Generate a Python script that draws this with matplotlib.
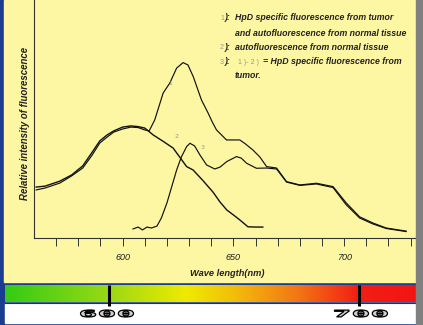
import matplotlib
matplotlib.use("Agg")
from matplotlib import pyplot as plt
from matplotlib.colors import LinearSegmentedColormap
from matplotlib.patches import Rectangle, PathPatch
from matplotlib.textpath import TextPath
from matplotlib.font_manager import FontProperties
from matplotlib.transforms import Affine2D
import numpy as np

# spectra (wavelength nm, relative intensity 0-100)
wl_total = [561, 565, 571.7, 577, 582, 586, 589.7, 593, 596, 600, 603.7, 607, 610, 612,
            614.5, 618.3, 621.3, 624.4, 627.3, 629.5, 631.9, 635.6, 638.6, 640.5, 642.4,
            646.9, 651.4, 652.9, 655.5, 658.8, 662, 665, 669.5, 674, 680, 687.5, 695,
            701, 707, 713, 719, 728]
int_total = [20.2, 21.0, 23.1, 26.1, 29.4, 34.5, 39.9, 42.4, 44.5, 45.8, 46.6, 46.4, 45.4, 45.0,
             49.6, 60.9, 65.1, 71.4, 73.7, 72.7, 67.8, 58.0, 52.5, 48.7, 45.4,
             41.2, 41.2, 41.2, 39.5, 37.0, 34.0, 30.0, 29.4, 23.7, 22.3, 23.0, 21.6,
             14.7, 8.9, 6.3, 4.2, 2.9]

wl_auto = [561, 565, 571.7, 577, 582, 586, 589.7, 593, 596, 600, 603.7, 607, 610, 613.8,
           618, 622.8, 628.9, 631.8, 636, 640.8, 644, 647, 650, 652.9, 656.6, 660, 663.3]
int_auto = [21.4, 21.8, 23.9, 26.5, 30.3, 35.7, 40.8, 43.3, 45.0, 46.6, 47.1, 46.8, 46.2, 43.3,
            40.8, 37.8, 30.0, 28.6, 24.4, 19.3, 15.1, 11.8, 9.7, 7.6, 4.7, 4.6, 4.6]

wl_diff = [604.7, 607, 609, 611, 613, 615.5, 617.5, 620, 622, 624.4, 626.5, 628.9, 630.4,
           632.5, 634.9, 637.9, 641.6, 644, 647, 651.4, 653.5, 656, 660.4, 665, 669.5,
           674, 680, 687.5, 695, 701, 707, 713, 719, 728]
int_diff = [3.8, 4.6, 3.4, 4.6, 4.2, 5.0, 8.4, 14.7, 21.0, 28.6, 34.0, 38.4, 39.8,
            38.7, 34.9, 30.7, 29.0, 29.8, 32.1, 34.2, 33.6, 31.4, 29.3, 29.4, 29.0,
            23.5, 22.1, 22.7, 21.2, 13.9, 8.4, 5.9, 4.0, 2.7]

x_ticks = list(range(570, 731, 10))
x_labels = {600: "600", 650: "650", 700: "700"}

legend_lines = [
    ("1", "HpD specific fluorescence from tumor"),
    (None, "and autofluorescence from normal tissue"),
    ("2", "autofluorescence from normal tissue"),
    ("3", None),
    (None, "tumor."),
]

yellow = "#fdf6a2"
blue = "#1b3d8f"
W, H = 423, 325

fig = plt.figure(figsize=(W / 100, H / 100), dpi=100)

# background panel in pixel coordinates
bg = fig.add_axes([0, 0, 1, 1])
bg.set_xlim(0, W)
bg.set_ylim(H, 0)
bg.axis("off")
bg.add_patch(Rectangle((0, 0), W, H, color=blue, zorder=0))
bg.add_patch(Rectangle((4, 0), 412, 282, color=yellow, zorder=1))
bg.add_patch(Rectangle((5, 303), 411, 19.5, color="white", zorder=1))

grad = LinearSegmentedColormap.from_list("spec", [
    (0.0, (0.20, 0.80, 0.08)),
    (0.25, (0.60, 0.85, 0.08)),
    (0.44, (0.94, 0.92, 0.0)),
    (0.56, (0.95, 0.74, 0.04)),
    (0.72, (0.95, 0.45, 0.08)),
    (0.86, (0.95, 0.12, 0.08)),
    (1.0, (0.95, 0.08, 0.08)),
])
bg.imshow(np.linspace(0, 1, 256).reshape(1, -1), cmap=grad, aspect="auto",
          extent=(5, 416, 302, 285), zorder=2)
bg.plot([5, 416], [302.5, 302.5], color="#333322", lw=0.8, zorder=3)
for xp in (109, 359):
    bg.plot([xp, xp], [285, 306], color="black", lw=2.2, zorder=3, solid_capstyle="butt")

# stretched outline digits under the colour bar
fp_mono = FontProperties(family="DejaVu Sans Mono", weight="bold")
for label, cx in (("600", 107), ("700", 361)):
    tp = TextPath((0, 0), label, size=10, prop=fp_mono)
    ext = tp.get_extents()
    sx = 53 / ext.width
    sy = 7 / ext.height
    tr = (Affine2D().translate(-ext.x0 - ext.width / 2, -ext.y0 - ext.height / 2)
          .scale(sx, -sy).translate(cx, 313.5))
    bg.add_patch(PathPatch(tp, transform=tr + bg.transData, facecolor="#cfcfcf",
                           edgecolor="black", lw=0.9, zorder=4))

# legend text
txt = dict(family="Liberation Sans", fontsize=6.3, fontweight="bold", style="italic",
           color="#222222", zorder=4, va="center")
num = dict(family="Liberation Sans", fontsize=5, color="#999988", zorder=4, va="center")
ys = [18, 33, 47.5, 62, 76]
for (n, s), yy in zip(legend_lines, ys):
    if n is not None:
        bg.text(220, yy, n, **num)
        bg.text(225, yy, "):", **txt)
    if s is not None:
        bg.text(235, yy, s, **txt)
bg.text(238, 62, "1 )- 2 )", **num)
bg.text(263, 62, "= HpD specific fluorescence from", **txt)

lab = dict(txt)
lab["fontsize"] = 6.7
bg.text(227, 273, "Wave length(nm)", ha="center", **lab)
lab["fontsize"] = 6.9
bg.text(25, 123, "Relative intensity of fluorescence", rotation=90, ha="center", **lab)

bg.add_patch(Rectangle((416, 0), 7, H, color="#808080", zorder=6))

# spectrum axes
ax = fig.add_axes([34 / W, (H - 238) / H, 381 / W, 238 / H])
ax.set_facecolor("none")
ax.plot(wl_total, int_total, color="#111111", lw=0.85)
ax.plot(wl_auto, int_auto, color="#111111", lw=1.0)
ax.plot(wl_diff, int_diff, color="#111111", lw=0.85)
ax.text(621.5, 65, "1", fontsize=4.5, color="#999988", ha="center", va="center")
ax.text(624.5, 42.5, "2", fontsize=4.5, color="#999988", ha="center", va="center")
ax.text(636, 38, "3", fontsize=4.5, color="#999988", ha="center", va="center")
ax.set_xlim(560, 732)
ax.set_ylim(0, 100)
ax.set_xticks(x_ticks)
ax.set_xticklabels([x_labels.get(t, "") for t in x_ticks], fontsize=6.5, style="italic",
                   family="Liberation Sans", color="#222222")
ax.set_yticks([])
ax.tick_params(axis="x", length=6, width=0.7, pad=5, color="#333333")
for sp in ("top", "right"):
    ax.spines[sp].set_visible(False)
for sp in ("left", "bottom"):
    ax.spines[sp].set_linewidth(0.8)
    ax.spines[sp].set_color("#333333")

plt.savefig("out.png", dpi=100)
plt.close()
